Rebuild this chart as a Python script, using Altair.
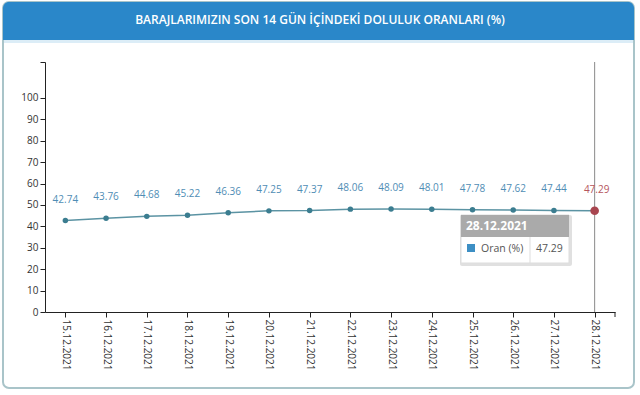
import altair as alt
import pandas as pd

# ---- data ----
dates = ["15.12.2021", "16.12.2021", "17.12.2021", "18.12.2021", "19.12.2021",
         "20.12.2021", "21.12.2021", "22.12.2021", "23.12.2021", "24.12.2021",
         "25.12.2021", "26.12.2021", "27.12.2021", "28.12.2021"]
values = [42.74, 43.76, 44.68, 45.22, 46.36, 47.25, 47.37,
          48.06, 48.09, 48.01, 47.78, 47.62, 47.44, 47.29]
y_ticks = [0, 10, 20, 30, 40, 50, 60, 70, 80, 90, 100]
title_text = "BARAJLARIMIZIN SON 14 GÜN İÇİNDEKİ DOLULUK ORANLARI (%)"
series_name = "Oran (%)"

df = pd.DataFrame({"date": dates, "value": values})
df["label"] = [f"{v:.2f}" for v in values]
last = df.iloc[[-1]].reset_index(drop=True)

YMAX = 116.8
FONT = "Open Sans"

xenc = alt.X("date:O", sort=dates,
             scale=alt.Scale(type="point", padding=0.5),
             axis=alt.Axis(title=None, labelAngle=90, labelFontSize=10, labelFont=FONT,
                           labelColor="#333333", domainColor="#222222", tickColor="#222222",
                           tickSize=5, labelPadding=2, grid=False, zindex=1))
yenc = alt.Y("value:Q", scale=alt.Scale(domain=[0, YMAX], nice=False, zero=True),
             axis=alt.Axis(title=None, values=y_ticks + [YMAX],
                           labelExpr="datum.value > 100 ? '' : datum.label",
                           labelFontSize=10, labelFont=FONT, labelColor="#333333",
                           domainColor="#222222", tickColor="#222222", tickSize=5,
                           labelPadding=2, grid=False, zindex=1))

one = alt.Data(values=[{}])

frame = alt.Chart(one).mark_rect(fill="white", stroke="#a9c4c9", strokeWidth=2,
                                 cornerRadius=6).encode(
    x=alt.value(-42), x2=alt.value(589), y=alt.value(-60), y2=alt.value(326))
header = alt.Chart(one).mark_rect(fill="#2a87c9", cornerRadiusTopLeft=6,
                                  cornerRadiusTopRight=6).encode(
    x=alt.value(-42), x2=alt.value(589), y=alt.value(-60), y2=alt.value(-22))
header_line = alt.Chart(one).mark_rect(fill="#dcedf7").encode(
    x=alt.value(-41), x2=alt.value(588), y=alt.value(-22), y2=alt.value(-19))
title = alt.Chart(alt.Data(values=[{"t": title_text}])).mark_text(
    color="white", font=FONT, fontSize=12, fontWeight=600, align="center",
    baseline="middle").encode(x=alt.value(275), y=alt.value(-42), text="t:N")

crosshair = alt.Chart(last).mark_rule(color="#8a8a8a", strokeWidth=1).encode(
    x=xenc, y=alt.value(0), y2=alt.value(250))

end_tick = alt.Chart(one).mark_rule(color="#222222").encode(
    x=alt.value(570), y=alt.value(250), y2=alt.value(255))

line = alt.Chart(df).mark_line(color="#5b93a3", strokeWidth=1.5).encode(x=xenc, y=yenc)
points = alt.Chart(df).mark_point(filled=True, color="#3b7d90", size=30, opacity=1).encode(
    x=xenc, y=yenc)
labels = alt.Chart(df.iloc[:-1]).mark_text(color="#4f8db5", font=FONT, fontSize=10,
                                           dy=-21, baseline="middle").encode(
    x=xenc, y=yenc, text="label:N")
last_pt = alt.Chart(last).mark_point(filled=True, color="#a8454f", size=75, opacity=1).encode(
    x=xenc, y=yenc)
last_label = alt.Chart(last).mark_text(color="#b5555d", font=FONT, fontSize=10,
                                       dy=-21, dx=2, baseline="middle").encode(
    x=xenc, y=yenc, text="label:N")

# tooltip box
tip_shadow = alt.Chart(one).mark_rect(fill="#000000", opacity=0.12, cornerRadius=2).encode(
    x=alt.value(415), x2=alt.value(527), y=alt.value(153), y2=alt.value(204))
tip_body = alt.Chart(one).mark_rect(fill="white", stroke="#dddddd", strokeWidth=1).encode(
    x=alt.value(416), x2=alt.value(524), y=alt.value(153), y2=alt.value(201))
tip_head = alt.Chart(one).mark_rect(fill="#aaaaaa").encode(
    x=alt.value(416), x2=alt.value(524), y=alt.value(153), y2=alt.value(175))
tip_title = alt.Chart(last).mark_text(color="white", font=FONT, fontSize=12, fontWeight="bold",
                                      align="left", baseline="middle").encode(
    x=alt.value(421), y=alt.value(164), text="date:N")
tip_sq = alt.Chart(one).mark_rect(fill="#3d8fc4").encode(
    x=alt.value(422), x2=alt.value(430), y=alt.value(182), y2=alt.value(190))
tip_name = alt.Chart(alt.Data(values=[{"n": series_name}])).mark_text(
    color="#555555", font=FONT, fontSize=10.5, align="left", baseline="middle").encode(
    x=alt.value(436), y=alt.value(187), text="n:N")
tip_div = alt.Chart(one).mark_rule(color="#dddddd").encode(
    x=alt.value(485), y=alt.value(175), y2=alt.value(201))
tip_val = alt.Chart(last).mark_text(color="#555555", font=FONT, fontSize=10.5, align="left",
                                    baseline="middle").encode(
    x=alt.value(491), y=alt.value(187), text="label:N")

chart = alt.layer(
    frame, header, header_line, title, crosshair, end_tick, line, points, labels,
    last_pt, last_label, tip_shadow, tip_body, tip_head, tip_title, tip_sq, tip_name,
    tip_div, tip_val
).properties(
    width=570, height=250,
    autosize=alt.AutoSizeParams(type="none"),
    padding={"left": 45, "top": 62, "right": 25, "bottom": 83},
    background="white",
).configure_view(stroke=None)

chart.save("out.html", embed_options={"renderer": "svg", "actions": False})
